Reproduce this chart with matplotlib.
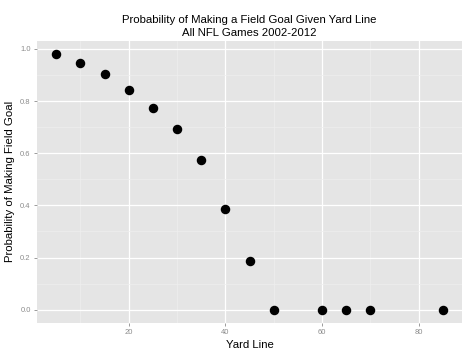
import matplotlib
matplotlib.use("Agg")
import matplotlib.pyplot as plt
import matplotlib.ticker as ticker

plt.rcParams["font.family"] = ["Liberation Sans", "DejaVu Sans"]

# field goal success rate by yard line
yard_line = [5, 10, 15, 20, 25, 30, 35, 40, 45, 50, 60, 65, 70, 85]
prob_make = [0.981, 0.946, 0.904, 0.843, 0.774, 0.693, 0.575, 0.387, 0.188,
             0.0, 0.0, 0.0, 0.0, 0.0]

fig = plt.figure(figsize=(4.74, 3.55), dpi=100)
ax = fig.add_axes([0.078, 0.0915, 0.897, 0.792])

ax.set_facecolor("#E5E5E5")
for s in ax.spines.values():
    s.set_visible(False)

ax.xaxis.set_major_locator(ticker.MultipleLocator(20))
ax.xaxis.set_minor_locator(ticker.MultipleLocator(10))
ax.yaxis.set_major_locator(ticker.MultipleLocator(0.2))
ax.yaxis.set_minor_locator(ticker.MultipleLocator(0.1))
ax.yaxis.set_major_formatter(ticker.FormatStrFormatter("%.1f"))
ax.grid(which="major", color="white", linewidth=0.9)
ax.grid(which="minor", color="#EEEEEE", linewidth=0.5)
ax.set_axisbelow(True)
ax.tick_params(which="major", length=2.5, color="#8C8C8C", labelcolor="#8C8C8C",
               labelsize=5.5, pad=2, width=0.6)
ax.tick_params(which="minor", length=0)

ax.scatter(yard_line, prob_make, s=34, color="black", zorder=3)

ax.set_xlim(1, 89)
ax.set_ylim(-0.049, 1.029)

ax.set_xlabel("Yard Line", fontsize=8.2, labelpad=3)
ax.set_ylabel("Probability of Making Field Goal", fontsize=8.2, labelpad=4)
ax.set_title("Probability of Making a Field Goal Given Yard Line\nAll NFL Games 2002-2012",
             fontsize=8.2, pad=4, linespacing=1.3)

fig.savefig("out.png", dpi=100)
